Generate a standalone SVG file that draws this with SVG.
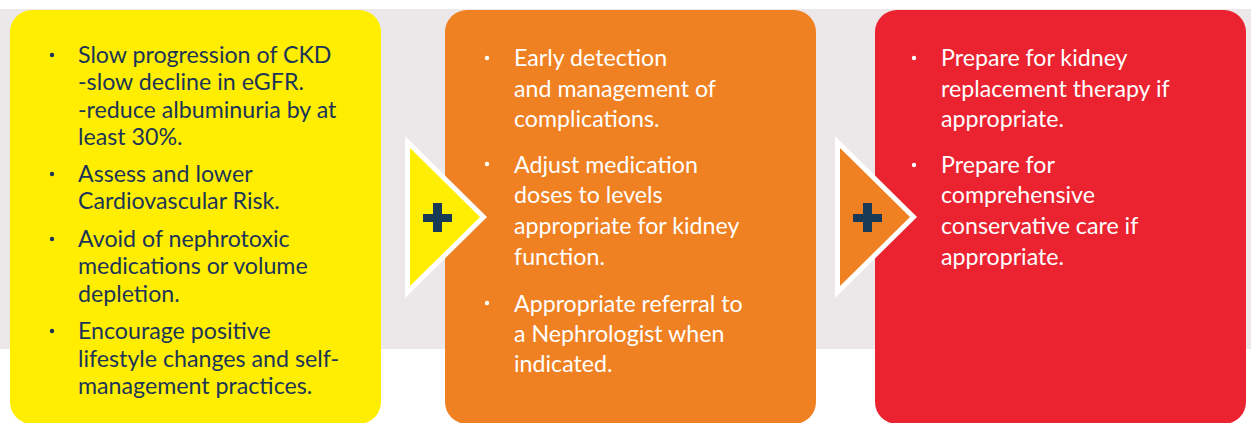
<svg xmlns="http://www.w3.org/2000/svg" width="1251" height="423" viewBox="0 0 1251 423">
  <style>
    .txt { font-family: "Lato", "Liberation Sans", sans-serif; font-size: 23.2px; font-weight: 400; }
    .dark { fill: #1c3557; }
    .light { fill: #ffffff; }
    .plus { fill: #183a56; }
    .chev { fill: #ffffff; }
  </style>
  <rect width="1251" height="423" fill="#ffffff"/>
  <!-- grey band behind the three panels -->
  <rect x="0" y="9" width="1251" height="340" fill="#ece8e9"/>

  <g id="stage-1">
    <rect x="10" y="10" width="371" height="414" rx="22" fill="#ffee00"/>
    <g class="dark">
      <circle cx="52" cy="55" r="2.2"/>
      <circle cx="52" cy="174" r="2.2"/>
      <circle cx="52" cy="239" r="2.2"/>
      <circle cx="52" cy="331" r="2.2"/>
    </g>
    <g class="txt dark">
      <text x="78" y="63">Slow progression of CKD</text>
      <text x="78" y="90">-slow decline in eGFR.</text>
      <text x="78" y="118">-reduce albuminuria by at</text>
      <text x="78" y="145">least 30%.</text>
      <text x="78" y="182">Assess and lower</text>
      <text x="78" y="209">Cardiovascular Risk.</text>
      <text x="78" y="247">Avoid of nephrotoxic</text>
      <text x="78" y="274">medications or volume</text>
      <text x="78" y="302">depletion.</text>
      <text x="78" y="339">Encourage positive</text>
      <text x="78" y="367">lifestyle changes and self-</text>
      <text x="78" y="394">management practices.</text>
    </g>
  </g>

  <g id="stage-2">
    <rect x="445" y="10" width="371" height="414" rx="22" fill="#f08122"/>
    <g class="light">
      <circle cx="487" cy="58" r="2.2"/>
      <circle cx="487" cy="164" r="2.2"/>
      <circle cx="487" cy="303" r="2.2"/>
    </g>
    <g class="txt light">
      <text x="514" y="66">Early detection</text>
      <text x="514" y="97">and management of</text>
      <text x="514" y="127">complications.</text>
      <text x="514" y="173">Adjust medication</text>
      <text x="514" y="203">doses to levels</text>
      <text x="514" y="234">appropriate for kidney</text>
      <text x="514" y="265">function.</text>
      <text x="514" y="312">Appropriate referral to</text>
      <text x="514" y="342">a Nephrologist when</text>
      <text x="514" y="372">indicated.</text>
    </g>
  </g>

  <g id="stage-3">
    <rect x="875" y="10" width="371" height="414" rx="22" fill="#eb2330"/>
    <g class="light">
      <circle cx="914" cy="58" r="2.2"/>
      <circle cx="914" cy="165" r="2.2"/>
    </g>
    <g class="txt light">
      <text x="941" y="66">Prepare for kidney</text>
      <text x="941" y="97">replacement therapy if</text>
      <text x="941" y="127">appropriate.</text>
      <text x="941" y="173">Prepare for</text>
      <text x="941" y="203">comprehensive</text>
      <text x="941" y="234">conservative care if</text>
      <text x="941" y="265">appropriate.</text>
    </g>
  </g>

  <g id="connectors">
    <g id="link-1-2">
      <polygon class="chev" points="405,136 487,217 405,298"/>
      <polygon points="410,148 480,217 410,286" fill="#ffee00"/>
      <rect class="plus" x="423" y="214" width="29" height="8"/>
      <rect class="plus" x="433" y="203" width="9" height="29"/>
    </g>
    <g id="link-2-3">
      <polygon class="chev" points="835,136 917,217 835,298"/>
      <polygon points="840,148 910,217 840,286" fill="#f08122"/>
      <rect class="plus" x="853" y="214" width="29" height="8"/>
      <rect class="plus" x="863" y="203" width="9" height="29"/>
    </g>
  </g>
</svg>
